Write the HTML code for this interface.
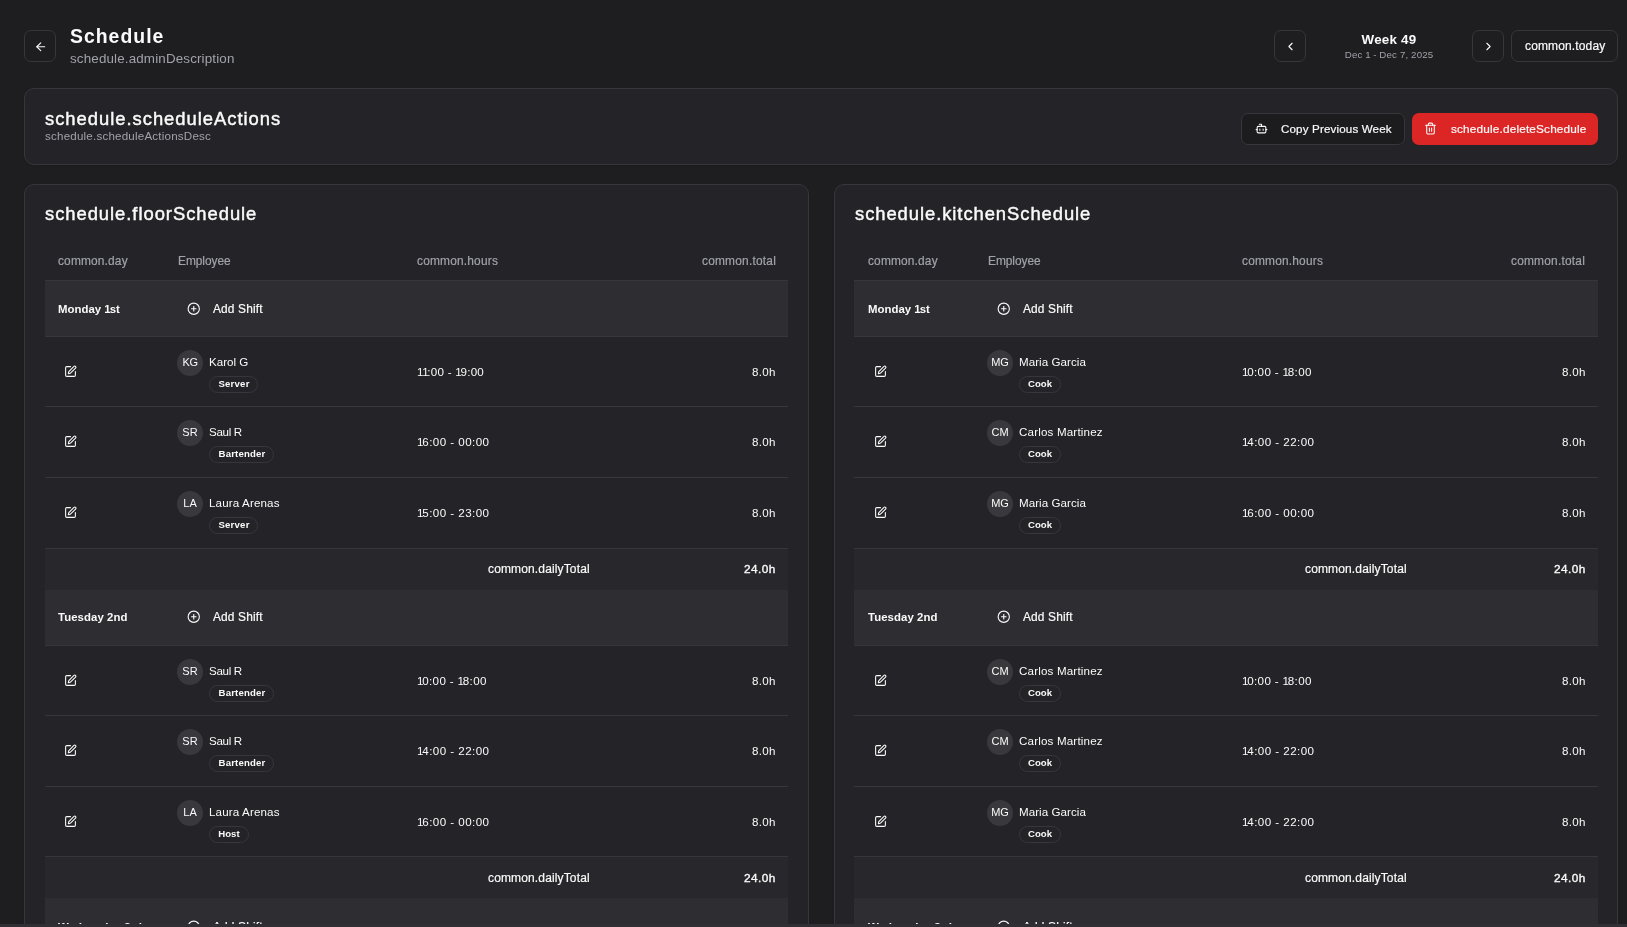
<!DOCTYPE html>
<html><head><meta charset="utf-8"><style>
html,body{margin:0;padding:0;width:1627px;height:927px;overflow:hidden;background:#1e1e21;}
body{position:relative;font-family:"Liberation Sans",sans-serif;color:#fafafa;}
.t{position:absolute;line-height:0;white-space:nowrap;will-change:transform;}
.b{position:absolute;}
.c{box-shadow:0 1px 2px 0 rgba(0,0,0,.12);}
.i{position:absolute;overflow:visible;}
</style></head><body>
<div class="b" style="left:24px;top:30px;width:32px;height:32px;border:1px solid #36363b;box-sizing:border-box;border-radius:7px;"></div>
<svg class="i" style="left:34px;top:40px;color:#fafafa" width="13.5" height="13.5" viewBox="0 0 24 24" fill="none" stroke="currentColor" stroke-width="2" stroke-linecap="round" stroke-linejoin="round"><path d="m12 19-7-7 7-7"/><path d="M19 12H5"/></svg>
<div class="t" style="top:36px;font-size:19.4px;font-weight:700;letter-spacing:1.02px;left:70.00px;">Schedule</div>
<div class="t" style="top:59px;font-size:13.4px;color:#a1a1aa;letter-spacing:0.15px;left:70.00px;">schedule.adminDescription</div>
<div class="b" style="left:1274px;top:30px;width:32px;height:32px;border:1px solid #36363b;box-sizing:border-box;border-radius:7px;"></div>
<svg class="i" style="left:1284px;top:40px;color:#fafafa" width="13" height="13" viewBox="0 0 24 24" fill="none" stroke="currentColor" stroke-width="2" stroke-linecap="round" stroke-linejoin="round"><path d="m15 18-6-6 6-6"/></svg>
<div class="t" style="top:40px;font-size:13.4px;font-weight:700;letter-spacing:0.23px;left:1089.41px;width:600px;text-align:center;">Week 49</div>
<div class="t" style="top:55px;font-size:9.7px;color:#a1a1aa;letter-spacing:0.15px;left:1089.48px;width:600px;text-align:center;">Dec <span style="margin-right:-0.50px">1</span> - Dec 7, 2025</div>
<div class="b" style="left:1472px;top:30px;width:32px;height:32px;border:1px solid #36363b;box-sizing:border-box;border-radius:7px;"></div>
<svg class="i" style="left:1482px;top:40px;color:#fafafa" width="13" height="13" viewBox="0 0 24 24" fill="none" stroke="currentColor" stroke-width="2" stroke-linecap="round" stroke-linejoin="round"><path d="m9 18 6-6-6-6"/></svg>
<div class="b" style="left:1511px;top:30px;width:107px;height:32px;border:1px solid #36363b;box-sizing:border-box;border-radius:7px;"></div>
<div class="t" style="top:46px;font-size:12.0px;-webkit-text-stroke:0.2px #fafafa;letter-spacing:0.14px;left:1525.00px;">common.today</div>
<div class="b c" style="left:24px;top:88px;width:1594px;height:77px;background:#242428;border:1px solid #36363b;box-sizing:border-box;border-radius:10px;"></div>
<div class="t" style="top:119px;font-size:18.4px;-webkit-text-stroke:0.45px #fafafa;letter-spacing:0.98px;left:45.00px;">schedule.scheduleActions</div>
<div class="t" style="top:136px;font-size:11.6px;color:#a1a1aa;letter-spacing:0.20px;left:45.00px;">schedule.scheduleActionsDesc</div>
<div class="b" style="left:1241px;top:113px;width:164px;height:32px;background:#1c1c1f;border:1px solid #36363b;box-sizing:border-box;border-radius:7px;"></div>
<svg class="i" style="left:1255px;top:122px;color:#fafafa" width="13" height="13" viewBox="0 0 24 24" fill="none" stroke="currentColor" stroke-width="2" stroke-linecap="round" stroke-linejoin="round"><path d="M12 8V4H8"/><rect width="16" height="12" x="4" y="8" rx="2"/><path d="M2 14h2"/><path d="M20 14h2"/><path d="M15 13v2"/><path d="M9 13v2"/></svg>
<div class="t" style="top:129px;font-size:11.6px;-webkit-text-stroke:0.2px #fafafa;letter-spacing:0.15px;left:1281.00px;">Copy Previous Week</div>
<div class="b" style="left:1412px;top:113px;width:186px;height:32px;background:#dc2626;border-radius:7px;"></div>
<svg class="i" style="left:1424px;top:122px;color:#fafafa" width="13" height="13" viewBox="0 0 24 24" fill="none" stroke="currentColor" stroke-width="2" stroke-linecap="round" stroke-linejoin="round"><path d="M3 6h18"/><path d="M19 6v14c0 1-1 2-2 2H7c-1 0-2-1-2-2V6"/><path d="M8 6V4c0-1 1-2 2-2h4c1 0 2 1 2 2v2"/><line x1="10" x2="10" y1="11" y2="17"/><line x1="14" x2="14" y1="11" y2="17"/></svg>
<div class="t" style="top:129px;font-size:11.8px;-webkit-text-stroke:0.2px #fafafa;letter-spacing:0.16px;left:1450.50px;">schedule.deleteSchedule</div>
<div class="b c" style="left:24px;top:184px;width:785px;height:800px;background:#242428;border:1px solid #36363b;box-sizing:border-box;border-radius:10px;"></div>
<div class="t" style="top:214px;font-size:18.4px;-webkit-text-stroke:0.45px #fafafa;letter-spacing:0.96px;left:45.00px;">schedule.floorSchedule</div>
<div class="t" style="top:261px;font-size:11.9px;-webkit-text-stroke:0.2px #a1a1aa;color:#a1a1aa;letter-spacing:0.17px;left:57.70px;">common.day</div>
<div class="t" style="top:261px;font-size:11.9px;-webkit-text-stroke:0.2px #a1a1aa;color:#a1a1aa;letter-spacing:-0.03px;left:177.50px;">Employee</div>
<div class="t" style="top:261px;font-size:11.9px;-webkit-text-stroke:0.2px #a1a1aa;color:#a1a1aa;letter-spacing:0.20px;left:416.70px;">common.hours</div>
<div class="t" style="top:261px;font-size:11.9px;-webkit-text-stroke:0.2px #a1a1aa;color:#a1a1aa;letter-spacing:0.22px;right:851.38px;">common.total</div>
<div class="b" style="left:45px;top:280px;width:743px;height:1px;background:#36363b;"></div>
<div class="b" style="left:45px;top:281px;width:743px;height:55px;background:#2d2d32;"></div>
<div class="b" style="left:45px;top:336px;width:743px;height:1px;background:#36363b;"></div>
<div class="t" style="top:309px;font-size:11.4px;font-weight:700;letter-spacing:0.01px;left:57.70px;">Monday <span style="margin-right:-1.00px">1</span>st</div>
<svg class="i" style="left:187px;top:302px;color:#fafafa" width="13.5" height="13.5" viewBox="0 0 24 24" fill="none" stroke="currentColor" stroke-width="2" stroke-linecap="round" stroke-linejoin="round"><circle cx="12" cy="12" r="10"/><path d="M8 12h8"/><path d="M12 8v8"/></svg>
<div class="t" style="top:309px;font-size:11.9px;-webkit-text-stroke:0.2px #fafafa;letter-spacing:0.16px;left:212.90px;">Add Shift</div>
<div class="b" style="left:45px;top:406px;width:743px;height:1px;background:#36363b;"></div>
<svg class="i" style="left:64px;top:365px;color:#fafafa" width="13" height="13" viewBox="0 0 24 24" fill="none" stroke="currentColor" stroke-width="2" stroke-linecap="round" stroke-linejoin="round"><path d="M12 3H5a2 2 0 0 0-2 2v14a2 2 0 0 0 2 2h14a2 2 0 0 0 2-2v-7"/><path d="M18.375 2.625a1 1 0 0 1 3 3l-9.013 9.014a2 2 0 0 1-.853.505l-2.873.84a.5.5 0 0 1-.62-.62l.84-2.873a2 2 0 0 1 .506-.852z"/></svg>
<div class="b" style="left:176.8px;top:349.5px;width:26px;height:26px;border-radius:50%;background:#38383d"></div>
<div class="t" style="top:362px;font-size:11.0px;letter-spacing:-0.54px;left:-109.87px;width:600px;text-align:center;">KG</div>
<div class="t" style="top:362px;font-size:11.6px;letter-spacing:-0.02px;left:208.80px;">Karol G</div>
<div class="b" style="left:209.0px;top:375.7px;width:49px;height:17.8px;border-radius:9px;border:1px solid #36363b;box-sizing:border-box"></div>
<div class="t" style="top:384px;font-size:9.6px;font-weight:700;letter-spacing:0.22px;left:-66.39px;width:600px;text-align:center;">Server</div>
<div class="t" style="top:372px;font-size:11.6px;letter-spacing:0.27px;left:417.00px;"><span style="margin-right:-1.60px">1</span><span style="margin-right:-1.60px">1</span>:00 - <span style="margin-right:-1.60px">1</span>9:00</div>
<div class="t" style="top:372px;font-size:11.6px;letter-spacing:0.31px;right:851.29px;">8.0h</div>
<div class="b" style="left:45px;top:477px;width:743px;height:1px;background:#36363b;"></div>
<svg class="i" style="left:64px;top:435px;color:#fafafa" width="13" height="13" viewBox="0 0 24 24" fill="none" stroke="currentColor" stroke-width="2" stroke-linecap="round" stroke-linejoin="round"><path d="M12 3H5a2 2 0 0 0-2 2v14a2 2 0 0 0 2 2h14a2 2 0 0 0 2-2v-7"/><path d="M18.375 2.625a1 1 0 0 1 3 3l-9.013 9.014a2 2 0 0 1-.853.505l-2.873.84a.5.5 0 0 1-.62-.62l.84-2.873a2 2 0 0 1 .506-.852z"/></svg>
<div class="b" style="left:176.8px;top:419.5px;width:26px;height:26px;border-radius:50%;background:#38383d"></div>
<div class="t" style="top:432px;font-size:11.0px;left:-109.60px;width:600px;text-align:center;">SR</div>
<div class="t" style="top:432px;font-size:11.6px;letter-spacing:-0.32px;left:208.80px;">Saul R</div>
<div class="b" style="left:209.0px;top:445.7px;width:65px;height:17.8px;border-radius:9px;border:1px solid #36363b;box-sizing:border-box"></div>
<div class="t" style="top:454px;font-size:9.6px;font-weight:700;letter-spacing:0.16px;left:-58.42px;width:600px;text-align:center;">Bartender</div>
<div class="t" style="top:442px;font-size:11.6px;letter-spacing:0.44px;left:417.00px;"><span style="margin-right:-1.60px">1</span>6:00 - 00:00</div>
<div class="t" style="top:442px;font-size:11.6px;letter-spacing:0.31px;right:851.29px;">8.0h</div>
<div class="b" style="left:45px;top:548px;width:743px;height:1px;background:#36363b;"></div>
<svg class="i" style="left:64px;top:506px;color:#fafafa" width="13" height="13" viewBox="0 0 24 24" fill="none" stroke="currentColor" stroke-width="2" stroke-linecap="round" stroke-linejoin="round"><path d="M12 3H5a2 2 0 0 0-2 2v14a2 2 0 0 0 2 2h14a2 2 0 0 0 2-2v-7"/><path d="M18.375 2.625a1 1 0 0 1 3 3l-9.013 9.014a2 2 0 0 1-.853.505l-2.873.84a.5.5 0 0 1-.62-.62l.84-2.873a2 2 0 0 1 .506-.852z"/></svg>
<div class="b" style="left:176.8px;top:490.5px;width:26px;height:26px;border-radius:50%;background:#38383d"></div>
<div class="t" style="top:503px;font-size:11.0px;left:-109.60px;width:600px;text-align:center;">LA</div>
<div class="t" style="top:503px;font-size:11.6px;letter-spacing:0.14px;left:208.80px;">Laura Arenas</div>
<div class="b" style="left:209.0px;top:516.7px;width:49px;height:17.8px;border-radius:9px;border:1px solid #36363b;box-sizing:border-box"></div>
<div class="t" style="top:525px;font-size:9.6px;font-weight:700;letter-spacing:0.22px;left:-66.39px;width:600px;text-align:center;">Server</div>
<div class="t" style="top:513px;font-size:11.6px;letter-spacing:0.44px;left:417.00px;"><span style="margin-right:-1.60px">1</span>5:00 - 23:00</div>
<div class="t" style="top:513px;font-size:11.6px;letter-spacing:0.31px;right:851.29px;">8.0h</div>
<div class="b" style="left:45px;top:549px;width:743px;height:41px;background:#28282c;"></div>
<div class="t" style="top:569px;font-size:12.0px;-webkit-text-stroke:0.2px #fafafa;letter-spacing:0.14px;right:1037.56px;">common.dailyTotal</div>
<div class="t" style="top:569px;font-size:11.8px;-webkit-text-stroke:0.2px #fafafa;letter-spacing:0.45px;right:851.15px;-webkit-text-stroke:0.35px #fafafa;">24.0h</div>
<div class="b" style="left:45px;top:590px;width:743px;height:55px;background:#2d2d32;"></div>
<div class="b" style="left:45px;top:645px;width:743px;height:1px;background:#36363b;"></div>
<div class="t" style="top:617px;font-size:11.4px;font-weight:700;letter-spacing:0.07px;left:57.70px;">Tuesday 2nd</div>
<svg class="i" style="left:187px;top:610px;color:#fafafa" width="13.5" height="13.5" viewBox="0 0 24 24" fill="none" stroke="currentColor" stroke-width="2" stroke-linecap="round" stroke-linejoin="round"><circle cx="12" cy="12" r="10"/><path d="M8 12h8"/><path d="M12 8v8"/></svg>
<div class="t" style="top:617px;font-size:11.9px;-webkit-text-stroke:0.2px #fafafa;letter-spacing:0.16px;left:212.90px;">Add Shift</div>
<div class="b" style="left:45px;top:715px;width:743px;height:1px;background:#36363b;"></div>
<svg class="i" style="left:64px;top:674px;color:#fafafa" width="13" height="13" viewBox="0 0 24 24" fill="none" stroke="currentColor" stroke-width="2" stroke-linecap="round" stroke-linejoin="round"><path d="M12 3H5a2 2 0 0 0-2 2v14a2 2 0 0 0 2 2h14a2 2 0 0 0 2-2v-7"/><path d="M18.375 2.625a1 1 0 0 1 3 3l-9.013 9.014a2 2 0 0 1-.853.505l-2.873.84a.5.5 0 0 1-.62-.62l.84-2.873a2 2 0 0 1 .506-.852z"/></svg>
<div class="b" style="left:176.8px;top:658.5px;width:26px;height:26px;border-radius:50%;background:#38383d"></div>
<div class="t" style="top:671px;font-size:11.0px;left:-109.60px;width:600px;text-align:center;">SR</div>
<div class="t" style="top:671px;font-size:11.6px;letter-spacing:-0.32px;left:208.80px;">Saul R</div>
<div class="b" style="left:209.0px;top:684.7px;width:65px;height:17.8px;border-radius:9px;border:1px solid #36363b;box-sizing:border-box"></div>
<div class="t" style="top:693px;font-size:9.6px;font-weight:700;letter-spacing:0.16px;left:-58.42px;width:600px;text-align:center;">Bartender</div>
<div class="t" style="top:681px;font-size:11.6px;letter-spacing:0.35px;left:417.00px;"><span style="margin-right:-1.60px">1</span>0:00 - <span style="margin-right:-1.60px">1</span>8:00</div>
<div class="t" style="top:681px;font-size:11.6px;letter-spacing:0.31px;right:851.29px;">8.0h</div>
<div class="b" style="left:45px;top:786px;width:743px;height:1px;background:#36363b;"></div>
<svg class="i" style="left:64px;top:744px;color:#fafafa" width="13" height="13" viewBox="0 0 24 24" fill="none" stroke="currentColor" stroke-width="2" stroke-linecap="round" stroke-linejoin="round"><path d="M12 3H5a2 2 0 0 0-2 2v14a2 2 0 0 0 2 2h14a2 2 0 0 0 2-2v-7"/><path d="M18.375 2.625a1 1 0 0 1 3 3l-9.013 9.014a2 2 0 0 1-.853.505l-2.873.84a.5.5 0 0 1-.62-.62l.84-2.873a2 2 0 0 1 .506-.852z"/></svg>
<div class="b" style="left:176.8px;top:728.5px;width:26px;height:26px;border-radius:50%;background:#38383d"></div>
<div class="t" style="top:741px;font-size:11.0px;left:-109.60px;width:600px;text-align:center;">SR</div>
<div class="t" style="top:741px;font-size:11.6px;letter-spacing:-0.32px;left:208.80px;">Saul R</div>
<div class="b" style="left:209.0px;top:754.7px;width:65px;height:17.8px;border-radius:9px;border:1px solid #36363b;box-sizing:border-box"></div>
<div class="t" style="top:763px;font-size:9.6px;font-weight:700;letter-spacing:0.16px;left:-58.42px;width:600px;text-align:center;">Bartender</div>
<div class="t" style="top:751px;font-size:11.6px;letter-spacing:0.44px;left:417.00px;"><span style="margin-right:-1.60px">1</span>4:00 - 22:00</div>
<div class="t" style="top:751px;font-size:11.6px;letter-spacing:0.31px;right:851.29px;">8.0h</div>
<div class="b" style="left:45px;top:856px;width:743px;height:1px;background:#36363b;"></div>
<svg class="i" style="left:64px;top:815px;color:#fafafa" width="13" height="13" viewBox="0 0 24 24" fill="none" stroke="currentColor" stroke-width="2" stroke-linecap="round" stroke-linejoin="round"><path d="M12 3H5a2 2 0 0 0-2 2v14a2 2 0 0 0 2 2h14a2 2 0 0 0 2-2v-7"/><path d="M18.375 2.625a1 1 0 0 1 3 3l-9.013 9.014a2 2 0 0 1-.853.505l-2.873.84a.5.5 0 0 1-.62-.62l.84-2.873a2 2 0 0 1 .506-.852z"/></svg>
<div class="b" style="left:176.8px;top:799.5px;width:26px;height:26px;border-radius:50%;background:#38383d"></div>
<div class="t" style="top:812px;font-size:11.0px;left:-109.60px;width:600px;text-align:center;">LA</div>
<div class="t" style="top:812px;font-size:11.6px;letter-spacing:0.14px;left:208.80px;">Laura Arenas</div>
<div class="b" style="left:209.0px;top:825.7px;width:39.5px;height:17.8px;border-radius:9px;border:1px solid #36363b;box-sizing:border-box"></div>
<div class="t" style="top:834px;font-size:9.6px;font-weight:700;left:-71.25px;width:600px;text-align:center;">Host</div>
<div class="t" style="top:822px;font-size:11.6px;letter-spacing:0.44px;left:417.00px;"><span style="margin-right:-1.60px">1</span>6:00 - 00:00</div>
<div class="t" style="top:822px;font-size:11.6px;letter-spacing:0.31px;right:851.29px;">8.0h</div>
<div class="b" style="left:45px;top:857px;width:743px;height:41px;background:#28282c;"></div>
<div class="t" style="top:878px;font-size:12.0px;-webkit-text-stroke:0.2px #fafafa;letter-spacing:0.14px;right:1037.56px;">common.dailyTotal</div>
<div class="t" style="top:878px;font-size:11.8px;-webkit-text-stroke:0.2px #fafafa;letter-spacing:0.45px;right:851.15px;-webkit-text-stroke:0.35px #fafafa;">24.0h</div>
<div class="b" style="left:45px;top:898px;width:743px;height:55px;background:#2d2d32;"></div>
<div class="b" style="left:45px;top:953px;width:743px;height:1px;background:#36363b;"></div>
<div class="t" style="top:927px;font-size:11.4px;font-weight:700;left:57.70px;">Wednesday 3rd</div>
<svg class="i" style="left:187px;top:920px;color:#fafafa" width="13.5" height="13.5" viewBox="0 0 24 24" fill="none" stroke="currentColor" stroke-width="2" stroke-linecap="round" stroke-linejoin="round"><circle cx="12" cy="12" r="10"/><path d="M8 12h8"/><path d="M12 8v8"/></svg>
<div class="t" style="top:927px;font-size:11.9px;-webkit-text-stroke:0.2px #fafafa;letter-spacing:0.16px;left:212.90px;">Add Shift</div>
<div class="b c" style="left:834px;top:184px;width:784px;height:800px;background:#242428;border:1px solid #36363b;box-sizing:border-box;border-radius:10px;"></div>
<div class="t" style="top:214px;font-size:18.4px;-webkit-text-stroke:0.45px #fafafa;letter-spacing:0.94px;left:855.00px;">schedule.kitchenSchedule</div>
<div class="t" style="top:261px;font-size:11.9px;-webkit-text-stroke:0.2px #a1a1aa;color:#a1a1aa;letter-spacing:0.17px;left:867.70px;">common.day</div>
<div class="t" style="top:261px;font-size:11.9px;-webkit-text-stroke:0.2px #a1a1aa;color:#a1a1aa;letter-spacing:-0.03px;left:987.50px;">Employee</div>
<div class="t" style="top:261px;font-size:11.9px;-webkit-text-stroke:0.2px #a1a1aa;color:#a1a1aa;letter-spacing:0.20px;left:1241.70px;">common.hours</div>
<div class="t" style="top:261px;font-size:11.9px;-webkit-text-stroke:0.2px #a1a1aa;color:#a1a1aa;letter-spacing:0.22px;right:41.68px;">common.total</div>
<div class="b" style="left:854px;top:280px;width:744px;height:1px;background:#36363b;"></div>
<div class="b" style="left:854px;top:281px;width:744px;height:55px;background:#2d2d32;"></div>
<div class="b" style="left:854px;top:336px;width:744px;height:1px;background:#36363b;"></div>
<div class="t" style="top:309px;font-size:11.4px;font-weight:700;letter-spacing:0.01px;left:867.70px;">Monday <span style="margin-right:-1.00px">1</span>st</div>
<svg class="i" style="left:997px;top:302px;color:#fafafa" width="13.5" height="13.5" viewBox="0 0 24 24" fill="none" stroke="currentColor" stroke-width="2" stroke-linecap="round" stroke-linejoin="round"><circle cx="12" cy="12" r="10"/><path d="M8 12h8"/><path d="M12 8v8"/></svg>
<div class="t" style="top:309px;font-size:11.9px;-webkit-text-stroke:0.2px #fafafa;letter-spacing:0.16px;left:1022.90px;">Add Shift</div>
<div class="b" style="left:854px;top:406px;width:744px;height:1px;background:#36363b;"></div>
<svg class="i" style="left:874px;top:365px;color:#fafafa" width="13" height="13" viewBox="0 0 24 24" fill="none" stroke="currentColor" stroke-width="2" stroke-linecap="round" stroke-linejoin="round"><path d="M12 3H5a2 2 0 0 0-2 2v14a2 2 0 0 0 2 2h14a2 2 0 0 0 2-2v-7"/><path d="M18.375 2.625a1 1 0 0 1 3 3l-9.013 9.014a2 2 0 0 1-.853.505l-2.873.84a.5.5 0 0 1-.62-.62l.84-2.873a2 2 0 0 1 .506-.852z"/></svg>
<div class="b" style="left:986.8px;top:349.5px;width:26px;height:26px;border-radius:50%;background:#38383d"></div>
<div class="t" style="top:362px;font-size:11.0px;left:700.40px;width:600px;text-align:center;">MG</div>
<div class="t" style="top:362px;font-size:11.6px;letter-spacing:0.05px;left:1018.80px;">Maria Garcia</div>
<div class="b" style="left:1019.0px;top:375.7px;width:41.5px;height:17.8px;border-radius:9px;border:1px solid #36363b;box-sizing:border-box"></div>
<div class="t" style="top:384px;font-size:9.6px;font-weight:700;left:739.75px;width:600px;text-align:center;">Cook</div>
<div class="t" style="top:372px;font-size:11.6px;letter-spacing:0.35px;left:1242.00px;"><span style="margin-right:-1.60px">1</span>0:00 - <span style="margin-right:-1.60px">1</span>8:00</div>
<div class="t" style="top:372px;font-size:11.6px;letter-spacing:0.31px;right:41.59px;">8.0h</div>
<div class="b" style="left:854px;top:477px;width:744px;height:1px;background:#36363b;"></div>
<svg class="i" style="left:874px;top:435px;color:#fafafa" width="13" height="13" viewBox="0 0 24 24" fill="none" stroke="currentColor" stroke-width="2" stroke-linecap="round" stroke-linejoin="round"><path d="M12 3H5a2 2 0 0 0-2 2v14a2 2 0 0 0 2 2h14a2 2 0 0 0 2-2v-7"/><path d="M18.375 2.625a1 1 0 0 1 3 3l-9.013 9.014a2 2 0 0 1-.853.505l-2.873.84a.5.5 0 0 1-.62-.62l.84-2.873a2 2 0 0 1 .506-.852z"/></svg>
<div class="b" style="left:986.8px;top:419.5px;width:26px;height:26px;border-radius:50%;background:#38383d"></div>
<div class="t" style="top:432px;font-size:11.0px;left:700.40px;width:600px;text-align:center;">CM</div>
<div class="t" style="top:432px;font-size:11.6px;letter-spacing:0.17px;left:1018.80px;">Carlos Martinez</div>
<div class="b" style="left:1019.0px;top:445.7px;width:41.5px;height:17.8px;border-radius:9px;border:1px solid #36363b;box-sizing:border-box"></div>
<div class="t" style="top:454px;font-size:9.6px;font-weight:700;left:739.75px;width:600px;text-align:center;">Cook</div>
<div class="t" style="top:442px;font-size:11.6px;letter-spacing:0.44px;left:1242.00px;"><span style="margin-right:-1.60px">1</span>4:00 - 22:00</div>
<div class="t" style="top:442px;font-size:11.6px;letter-spacing:0.31px;right:41.59px;">8.0h</div>
<div class="b" style="left:854px;top:548px;width:744px;height:1px;background:#36363b;"></div>
<svg class="i" style="left:874px;top:506px;color:#fafafa" width="13" height="13" viewBox="0 0 24 24" fill="none" stroke="currentColor" stroke-width="2" stroke-linecap="round" stroke-linejoin="round"><path d="M12 3H5a2 2 0 0 0-2 2v14a2 2 0 0 0 2 2h14a2 2 0 0 0 2-2v-7"/><path d="M18.375 2.625a1 1 0 0 1 3 3l-9.013 9.014a2 2 0 0 1-.853.505l-2.873.84a.5.5 0 0 1-.62-.62l.84-2.873a2 2 0 0 1 .506-.852z"/></svg>
<div class="b" style="left:986.8px;top:490.5px;width:26px;height:26px;border-radius:50%;background:#38383d"></div>
<div class="t" style="top:503px;font-size:11.0px;left:700.40px;width:600px;text-align:center;">MG</div>
<div class="t" style="top:503px;font-size:11.6px;letter-spacing:0.05px;left:1018.80px;">Maria Garcia</div>
<div class="b" style="left:1019.0px;top:516.7px;width:41.5px;height:17.8px;border-radius:9px;border:1px solid #36363b;box-sizing:border-box"></div>
<div class="t" style="top:525px;font-size:9.6px;font-weight:700;left:739.75px;width:600px;text-align:center;">Cook</div>
<div class="t" style="top:513px;font-size:11.6px;letter-spacing:0.44px;left:1242.00px;"><span style="margin-right:-1.60px">1</span>6:00 - 00:00</div>
<div class="t" style="top:513px;font-size:11.6px;letter-spacing:0.31px;right:41.59px;">8.0h</div>
<div class="b" style="left:854px;top:549px;width:744px;height:41px;background:#28282c;"></div>
<div class="t" style="top:569px;font-size:12.0px;-webkit-text-stroke:0.2px #fafafa;letter-spacing:0.14px;right:220.16px;">common.dailyTotal</div>
<div class="t" style="top:569px;font-size:11.8px;-webkit-text-stroke:0.2px #fafafa;letter-spacing:0.45px;right:41.45px;-webkit-text-stroke:0.35px #fafafa;">24.0h</div>
<div class="b" style="left:854px;top:590px;width:744px;height:55px;background:#2d2d32;"></div>
<div class="b" style="left:854px;top:645px;width:744px;height:1px;background:#36363b;"></div>
<div class="t" style="top:617px;font-size:11.4px;font-weight:700;letter-spacing:0.07px;left:867.70px;">Tuesday 2nd</div>
<svg class="i" style="left:997px;top:610px;color:#fafafa" width="13.5" height="13.5" viewBox="0 0 24 24" fill="none" stroke="currentColor" stroke-width="2" stroke-linecap="round" stroke-linejoin="round"><circle cx="12" cy="12" r="10"/><path d="M8 12h8"/><path d="M12 8v8"/></svg>
<div class="t" style="top:617px;font-size:11.9px;-webkit-text-stroke:0.2px #fafafa;letter-spacing:0.16px;left:1022.90px;">Add Shift</div>
<div class="b" style="left:854px;top:715px;width:744px;height:1px;background:#36363b;"></div>
<svg class="i" style="left:874px;top:674px;color:#fafafa" width="13" height="13" viewBox="0 0 24 24" fill="none" stroke="currentColor" stroke-width="2" stroke-linecap="round" stroke-linejoin="round"><path d="M12 3H5a2 2 0 0 0-2 2v14a2 2 0 0 0 2 2h14a2 2 0 0 0 2-2v-7"/><path d="M18.375 2.625a1 1 0 0 1 3 3l-9.013 9.014a2 2 0 0 1-.853.505l-2.873.84a.5.5 0 0 1-.62-.62l.84-2.873a2 2 0 0 1 .506-.852z"/></svg>
<div class="b" style="left:986.8px;top:658.5px;width:26px;height:26px;border-radius:50%;background:#38383d"></div>
<div class="t" style="top:671px;font-size:11.0px;left:700.40px;width:600px;text-align:center;">CM</div>
<div class="t" style="top:671px;font-size:11.6px;letter-spacing:0.17px;left:1018.80px;">Carlos Martinez</div>
<div class="b" style="left:1019.0px;top:684.7px;width:41.5px;height:17.8px;border-radius:9px;border:1px solid #36363b;box-sizing:border-box"></div>
<div class="t" style="top:693px;font-size:9.6px;font-weight:700;left:739.75px;width:600px;text-align:center;">Cook</div>
<div class="t" style="top:681px;font-size:11.6px;letter-spacing:0.35px;left:1242.00px;"><span style="margin-right:-1.60px">1</span>0:00 - <span style="margin-right:-1.60px">1</span>8:00</div>
<div class="t" style="top:681px;font-size:11.6px;letter-spacing:0.31px;right:41.59px;">8.0h</div>
<div class="b" style="left:854px;top:786px;width:744px;height:1px;background:#36363b;"></div>
<svg class="i" style="left:874px;top:744px;color:#fafafa" width="13" height="13" viewBox="0 0 24 24" fill="none" stroke="currentColor" stroke-width="2" stroke-linecap="round" stroke-linejoin="round"><path d="M12 3H5a2 2 0 0 0-2 2v14a2 2 0 0 0 2 2h14a2 2 0 0 0 2-2v-7"/><path d="M18.375 2.625a1 1 0 0 1 3 3l-9.013 9.014a2 2 0 0 1-.853.505l-2.873.84a.5.5 0 0 1-.62-.62l.84-2.873a2 2 0 0 1 .506-.852z"/></svg>
<div class="b" style="left:986.8px;top:728.5px;width:26px;height:26px;border-radius:50%;background:#38383d"></div>
<div class="t" style="top:741px;font-size:11.0px;left:700.40px;width:600px;text-align:center;">CM</div>
<div class="t" style="top:741px;font-size:11.6px;letter-spacing:0.17px;left:1018.80px;">Carlos Martinez</div>
<div class="b" style="left:1019.0px;top:754.7px;width:41.5px;height:17.8px;border-radius:9px;border:1px solid #36363b;box-sizing:border-box"></div>
<div class="t" style="top:763px;font-size:9.6px;font-weight:700;left:739.75px;width:600px;text-align:center;">Cook</div>
<div class="t" style="top:751px;font-size:11.6px;letter-spacing:0.44px;left:1242.00px;"><span style="margin-right:-1.60px">1</span>4:00 - 22:00</div>
<div class="t" style="top:751px;font-size:11.6px;letter-spacing:0.31px;right:41.59px;">8.0h</div>
<div class="b" style="left:854px;top:856px;width:744px;height:1px;background:#36363b;"></div>
<svg class="i" style="left:874px;top:815px;color:#fafafa" width="13" height="13" viewBox="0 0 24 24" fill="none" stroke="currentColor" stroke-width="2" stroke-linecap="round" stroke-linejoin="round"><path d="M12 3H5a2 2 0 0 0-2 2v14a2 2 0 0 0 2 2h14a2 2 0 0 0 2-2v-7"/><path d="M18.375 2.625a1 1 0 0 1 3 3l-9.013 9.014a2 2 0 0 1-.853.505l-2.873.84a.5.5 0 0 1-.62-.62l.84-2.873a2 2 0 0 1 .506-.852z"/></svg>
<div class="b" style="left:986.8px;top:799.5px;width:26px;height:26px;border-radius:50%;background:#38383d"></div>
<div class="t" style="top:812px;font-size:11.0px;left:700.40px;width:600px;text-align:center;">MG</div>
<div class="t" style="top:812px;font-size:11.6px;letter-spacing:0.05px;left:1018.80px;">Maria Garcia</div>
<div class="b" style="left:1019.0px;top:825.7px;width:41.5px;height:17.8px;border-radius:9px;border:1px solid #36363b;box-sizing:border-box"></div>
<div class="t" style="top:834px;font-size:9.6px;font-weight:700;left:739.75px;width:600px;text-align:center;">Cook</div>
<div class="t" style="top:822px;font-size:11.6px;letter-spacing:0.44px;left:1242.00px;"><span style="margin-right:-1.60px">1</span>4:00 - 22:00</div>
<div class="t" style="top:822px;font-size:11.6px;letter-spacing:0.31px;right:41.59px;">8.0h</div>
<div class="b" style="left:854px;top:857px;width:744px;height:41px;background:#28282c;"></div>
<div class="t" style="top:878px;font-size:12.0px;-webkit-text-stroke:0.2px #fafafa;letter-spacing:0.14px;right:220.16px;">common.dailyTotal</div>
<div class="t" style="top:878px;font-size:11.8px;-webkit-text-stroke:0.2px #fafafa;letter-spacing:0.45px;right:41.45px;-webkit-text-stroke:0.35px #fafafa;">24.0h</div>
<div class="b" style="left:854px;top:898px;width:744px;height:55px;background:#2d2d32;"></div>
<div class="b" style="left:854px;top:953px;width:744px;height:1px;background:#36363b;"></div>
<div class="t" style="top:927px;font-size:11.4px;font-weight:700;left:867.70px;">Wednesday 3rd</div>
<svg class="i" style="left:997px;top:920px;color:#fafafa" width="13.5" height="13.5" viewBox="0 0 24 24" fill="none" stroke="currentColor" stroke-width="2" stroke-linecap="round" stroke-linejoin="round"><circle cx="12" cy="12" r="10"/><path d="M8 12h8"/><path d="M12 8v8"/></svg>
<div class="t" style="top:927px;font-size:11.9px;-webkit-text-stroke:0.2px #fafafa;letter-spacing:0.16px;left:1022.90px;">Add Shift</div>
<div class="b" style="left:0px;top:924px;width:1627px;height:3px;background:#303034;"></div>
</body></html>
